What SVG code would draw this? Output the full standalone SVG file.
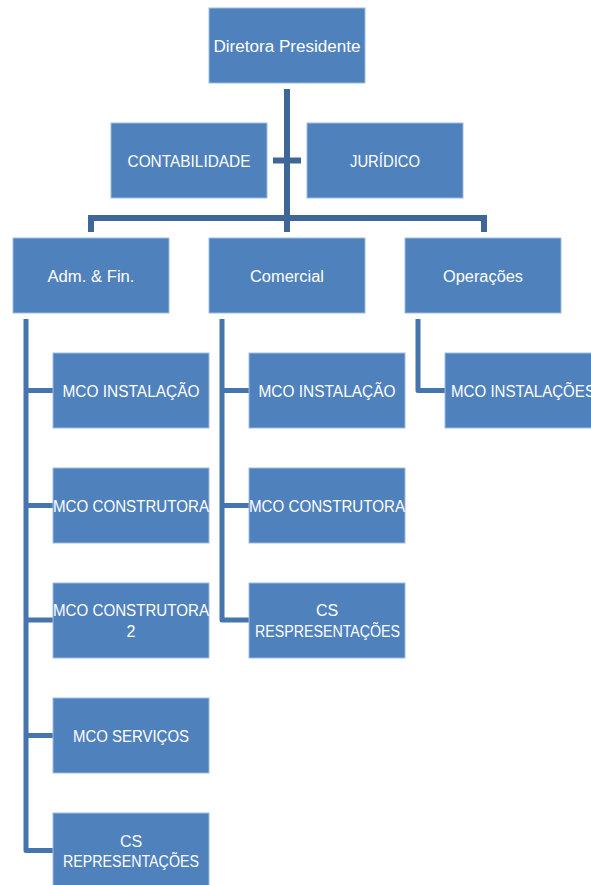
<svg xmlns="http://www.w3.org/2000/svg" width="591" height="885" viewBox="0 0 591 885">
<style>
.box{fill:#4F81BD;stroke:#9DBBE0;stroke-width:1}
.t{font-family:"Liberation Sans",Arial,sans-serif;font-size:16px;fill:#FFFFFF;text-anchor:middle}
.c1{fill:none;stroke:#3E6697;stroke-width:6}
.c2{fill:none;stroke:#4674AC;stroke-width:5;stroke-linejoin:round}
</style>
<rect width="591" height="885" fill="#FFFFFF"/>
<g id="connectors">
<line class="c1" x1="287" y1="89" x2="287" y2="232"/>
<line class="c1" x1="273" y1="160.5" x2="301" y2="160.5" stroke-width="5"/>
<path class="c1" d="M91,232 V218 H484 V232"/>
<path class="c2" d="M26,319 V850.5 H53 M26,390.5 H53 M26,505.5 H53 M26,620 H53 M26,735.5 H53"/>
<path class="c2" d="M222,319 V620 H249 M222,390.5 H249 M222,505.5 H249"/>
<path class="c2" d="M418,319 V390.5 H445"/>
</g>
<g id="n-presidente"><rect class="box" x="209" y="8" width="156" height="75"/><text class="t" x="287" y="51.5" textLength="147" lengthAdjust="spacingAndGlyphs">Diretora Presidente</text></g>
<g id="n-contabilidade"><rect class="box" x="111" y="123" width="156" height="75"/><text class="t" x="189" y="166.5" textLength="123" lengthAdjust="spacingAndGlyphs">CONTABILIDADE</text></g>
<g id="n-juridico"><rect class="box" x="307" y="123" width="156" height="75"/><text class="t" x="385" y="166.5" textLength="70" lengthAdjust="spacingAndGlyphs">JURÍDICO</text></g>
<g id="n-adm"><rect class="box" x="13" y="238" width="156" height="75"/><text class="t" x="91" y="281.5" textLength="87" lengthAdjust="spacingAndGlyphs">Adm. &amp; Fin.</text></g>
<g id="n-comercial"><rect class="box" x="209" y="238" width="156" height="75"/><text class="t" x="287" y="281.5" textLength="74" lengthAdjust="spacingAndGlyphs">Comercial</text></g>
<g id="n-operacoes"><rect class="box" x="405" y="238" width="156" height="75"/><text class="t" x="483" y="281.5" textLength="80" lengthAdjust="spacingAndGlyphs">Operações</text></g>
<g id="n-adm-1"><rect class="box" x="53" y="353" width="156" height="75"/><text class="t" x="131" y="396.5" textLength="137" lengthAdjust="spacingAndGlyphs">MCO INSTALAÇÃO</text></g>
<g id="n-adm-2"><rect class="box" x="53" y="468" width="156" height="75"/><text class="t" x="131" y="511.5" textLength="156" lengthAdjust="spacingAndGlyphs">MCO CONSTRUTORA</text></g>
<g id="n-adm-3"><rect class="box" x="53" y="583" width="156" height="75"/><text class="t" x="131" y="616" textLength="156" lengthAdjust="spacingAndGlyphs">MCO CONSTRUTORA</text><text class="t" x="131" y="637">2</text></g>
<g id="n-adm-4"><rect class="box" x="53" y="698" width="156" height="75"/><text class="t" x="131" y="741.5" textLength="116" lengthAdjust="spacingAndGlyphs">MCO SERVIÇOS</text></g>
<g id="n-adm-5"><rect class="box" x="53" y="813" width="156" height="75"/><text class="t" x="131" y="846.5">CS</text><text class="t" x="131" y="866.5" textLength="136" lengthAdjust="spacingAndGlyphs">REPRESENTAÇÕES</text></g>
<g id="n-com-1"><rect class="box" x="249" y="353" width="156" height="75"/><text class="t" x="327" y="396.5" textLength="137" lengthAdjust="spacingAndGlyphs">MCO INSTALAÇÃO</text></g>
<g id="n-com-2"><rect class="box" x="249" y="468" width="156" height="75"/><text class="t" x="327" y="511.5" textLength="156" lengthAdjust="spacingAndGlyphs">MCO CONSTRUTORA</text></g>
<g id="n-com-3"><rect class="box" x="249" y="583" width="156" height="75"/><text class="t" x="327" y="616">CS</text><text class="t" x="327.5" y="637" textLength="145" lengthAdjust="spacingAndGlyphs">RESPRESENTAÇÕES</text></g>
<g id="n-op-1"><rect class="box" x="445" y="353" width="156" height="75"/><text class="t" x="523" y="396.5" textLength="144" lengthAdjust="spacingAndGlyphs">MCO INSTALAÇÕES</text></g>
</svg>
